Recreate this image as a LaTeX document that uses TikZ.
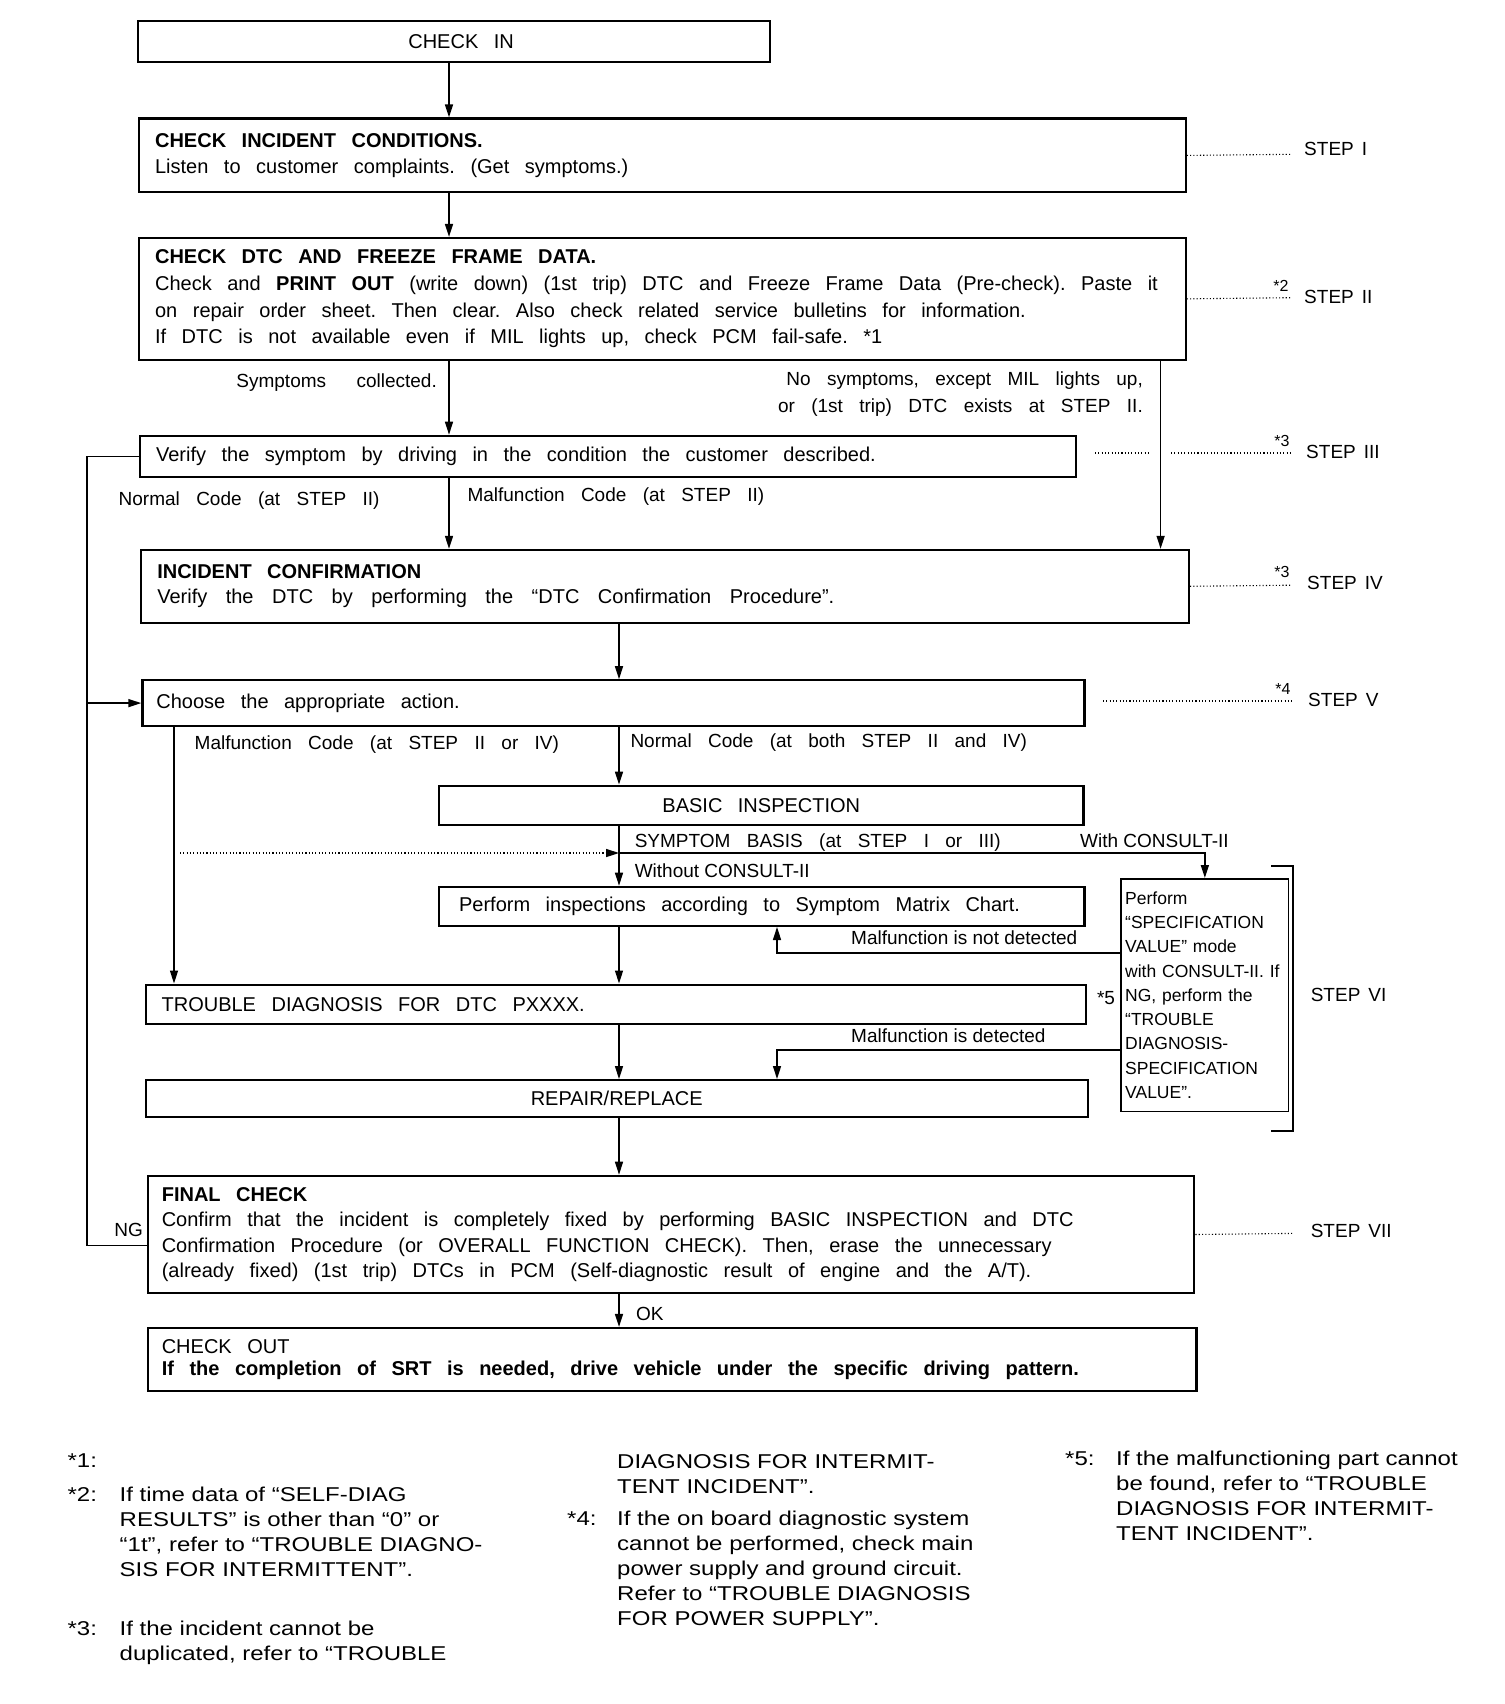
\documentclass[tikz,border=0pt]{standalone}
\usepackage{fontspec}
\setmainfont{Liberation Sans}[WordSpace=3.1]
\newfontfamily\lblfont{Liberation Sans}
\newfontfamily\fnfont{Liberation Sans}[FakeStretch=1.2]
\usetikzlibrary{arrows.meta}
\newcommand\mfs{\fontsize{19}{26}\selectfont}
\newcommand\bfs{\fontsize{20}{26}\selectfont}
\newcommand\ws{\spaceskip=15.5pt plus 1pt minus 1pt\xspaceskip=\spaceskip\frenchspacing}
\newcommand\stepws{\lblfont\fontsize{19}{22}\selectfont\spaceskip 8pt\relax}
\begin{document}
\begin{tikzpicture}[x={(1pt,0pt)},y={(0pt,-1pt)},
  box/.style={draw, line width=2.2pt, inner ysep=0pt, inner xsep=16pt, anchor=north west, align=left, font=\bfs},
  conn/.style={line width=1.5pt},
  arr/.style={conn, -{Triangle[length=13pt,width=8pt]}},
  dots/.style={line width=1.1pt, dash pattern=on 1.1pt off 2.2pt},
  lbl/.style={inner sep=0pt, font=\mfs},
  steplbl/.style={inner sep=0pt, anchor=west, font=\stepws},
  small/.style={inner sep=0pt, font=\lblfont\fontsize{19}{22}\selectfont},
  star/.style={inner sep=0pt, font=\lblfont\fontsize{16}{18}\selectfont},
  fn/.style={inner sep=0pt, anchor=base west, align=left, font=\fnfont\fontsize{20}{25.2}\selectfont}]
\useasboundingbox (0,0) rectangle (1504,1704);
\fill[white] (0,0) rectangle (1504,1704);

% boxes
\node[box, align=center, minimum width=632pt, minimum height=41.3pt, text width=600pt] (checkin) at (137,19.6) {\ws\hspace*{14pt}\mbox{CHECK IN}};
\node[box, minimum width=1046.5pt, minimum height=73.9pt, text width=1014.5pt, font=\fontsize{20}{26}\selectfont] (incident) at (138,117.4)
  {\ws\textbf{CHECK INCIDENT CONDITIONS.}\\Listen to customer complaints. (Get symptoms.)};
\node[box, minimum width=1046.5pt, minimum height=121.7pt, text width=1014.5pt, font=\fontsize{20}{26.8}\selectfont] (dtc) at (138,236.9)
  {\ws\textbf{CHECK DTC AND FREEZE FRAME DATA.}\\\mbox{Check and \textbf{PRINT OUT} (write down) (1st trip) DTC and Freeze Frame Data (Pre-check). Paste it}\\on repair order sheet. Then clear. Also check related service bulletins for information.\\If DTC is not available even if MIL lights up, check PCM fail-safe. *1};
\node[box, minimum width=935.7pt, minimum height=41.3pt, text width=903.7pt] (verify) at (139,434.7)
  {\ws Verify the symptom by driving in the condition the customer described.};
\node[box, minimum width=1047.6pt, minimum height=72.8pt, text width=1015.6pt, font=\fontsize{20}{25}\selectfont] (conf) at (140.2,548.8)
  {\ws\textbf{INCIDENT CONFIRMATION}\\Verify\hspace{3pt} the\hspace{3pt} DTC\hspace{3pt} by\hspace{3pt} performing\hspace{3pt} the\hspace{3pt} “DTC\hspace{3pt} Confirmation\hspace{3pt} Procedure”.};
\node[box, inner xsep=14pt, minimum width=942.1pt, minimum height=45.6pt, text width=914.1pt] (choose) at (141.3,679.2)
  {\ws Choose the appropriate action.};
\node[box, align=center, minimum width=644.4pt, minimum height=39.1pt, text width=612.4pt] (basic) at (438,784.6) {\ws\mbox{BASIC INSPECTION}};
\node[box, inner xsep=20pt, minimum width=645.4pt, minimum height=39.1pt, text width=605.4pt] (perf) at (438,885.7)
  {\ws Perform inspections according to Symptom Matrix Chart.};
\node[box, minimum width=940pt, minimum height=39.1pt, text width=908pt] (trouble) at (144.5,983.5)
  {\ws TROUBLE DIAGNOSIS FOR DTC PXXXX.};
\node[box, line width=1.6pt, inner xsep=4pt, minimum width=167.3pt, minimum height=232.6pt, text width=159.3pt, font=\lblfont\fontsize{17.5}{24.3}\selectfont] (spec) at (1120.4,878)
  {Perform\\“SPECIFICATION\\VALUE” mode\\with CONSULT-II. If\\NG, perform the\\“TROUBLE\\DIAGNOSIS-\\SPECIFICATION\\VALUE”.};
\node[box, align=center, minimum width=942.2pt, minimum height=37pt, text width=910.2pt] (repair) at (144.5,1079) {\ws\mbox{REPAIR/REPLACE}};
\node[box, inner xsep=14pt, minimum width=1046.5pt, minimum height=117.4pt, text width=1018.5pt, font=\fontsize{20}{25.4}\selectfont] (final) at (146.7,1174.7)
  {\ws\textbf{FINAL CHECK}\\Confirm that the incident is completely fixed by performing BASIC INSPECTION and DTC\\Confirmation Procedure (or OVERALL FUNCTION CHECK). Then, erase the unnecessary\\(already fixed) (1st trip) DTCs in PCM (Self-diagnostic result of engine and the A/T).};
\node[box, inner xsep=14pt, minimum width=1048.7pt, minimum height=63pt, text width=1020.7pt, font=\fontsize{20}{22}\selectfont] (checkout) at (146.7,1326.9)
  {\ws CHECK OUT\\\textbf{If the completion of SRT is needed, drive vehicle under the specific driving pattern.}};

% helper coordinates
\coordinate (c1) at (449,0);
\coordinate (c2) at (1160.6,0);
\coordinate (c3) at (619,0);
\coordinate (c4) at (174,0);
\coordinate (lx) at (87,0);
\coordinate (sb) at (619,853);
\coordinate (sbs) at (180,853);
\coordinate (nd) at (777,953);
\coordinate (dd) at (777,1049.8);

% connectors
\draw[arr] (checkin.south -| c1) -- (incident.north -| c1);
\draw[arr] (incident.south -| c1) -- (dtc.north -| c1);
\draw[arr] (dtc.south -| c1) -- (verify.north -| c1);
\draw[arr] (verify.south -| c1) -- (conf.north -| c1);
\draw[arr] (dtc.south -| c2) -- (conf.north -| c2);
\draw[arr] (conf.south -| c3) -- (choose.north -| c3);
\draw[arr] (choose.south -| c3) -- (basic.north -| c3);
\draw[arr] (basic.south -| c3) -- (perf.north -| c3);
\draw[arr] (perf.south -| c3) -- (trouble.north -| c3);
\draw[arr] (trouble.south -| c3) -- (repair.north -| c3);
\draw[arr] (repair.south -| c3) -- (final.north -| c3);
\draw[arr] (final.south -| c3) -- (checkout.north -| c3);
\draw[arr] (choose.south -| c4) -- (trouble.north -| c4);
\draw[arr] (verify.west) -| (lx |- choose.west) -- (choose.west);
\draw[conn] ([yshift=-11pt]final.west) -| (lx |- choose.west);
\draw[dots, line width=1.5pt, -{Triangle[length=13pt,width=8pt]}] (sbs) -- (sb);
\draw[arr] (sb) -| (spec.north);
\draw[arr] (spec.west |- nd) -| (perf.south -| nd);
\draw[arr] (spec.west |- dd) -| (repair.north -| dd);

% labels on connectors
\node[lbl, anchor=east] (lsym) at (437,382.5) {Symptoms\hspace{14pt} collected.};
\node[lbl, anchor=east, align=right, font=\fontsize{19}{27.2}\selectfont] (lnosym) at (1143,394) {No symptoms, except MIL lights up,\\or (1st trip) DTC exists at STEP II.};
\node[lbl, anchor=west] (lnorm2) at (118.5,501) {Normal Code (at STEP II)};
\node[lbl, anchor=west] (lmal2) at (467.3,496.6) {Malfunction Code (at STEP II)};
\node[lbl, anchor=west] (lmal24) at (194.5,744.4) {Malfunction Code (at STEP II or IV)};
\node[lbl, anchor=west] (lnorm24) at (630.3,742.2) {Normal Code (at both STEP II and IV)};
\node[lbl, anchor=west] (lsb) at (634.6,842.2) {SYMPTOM BASIS (at STEP I or III)};
\node[small, anchor=west] (lwith) at (1080,841) {With CONSULT-II};
\node[small, anchor=west] (lwithout) at (634.6,870.5) {Without CONSULT-II};
\node[small, anchor=west] (lnotdet) at (851,937.8) {Malfunction is not detected};
\node[small, anchor=west] (ldet) at (851,1035.6) {Malfunction is detected};
\node[lbl] (l5) at (1106,997.6) {*5};
\node[lbl, anchor=east] (lng) at (143,1230) {NG};
\node[lbl, anchor=west] (lok) at (636,1314) {OK};

% step marks
\draw[dots] (incident.east) -- (1291,154.3);
\draw[dots] (dtc.east) -- (1290,297.7);
\draw[dots] (1095,453) -- (1150,453);
\draw[dots] (1171,453) -- (1290,453);
\draw[dots] (conf.east) -- (1290,585.2);
\draw[dots] (1103,701) -- (1293,701);
\draw[dots] (final.east) -- (1293,1233.4);
\draw[conn] (1271,866) -- (1293,866) -- (1293,1131) -- (1271,1131);
\node[star] (s2) at (1281,286) {*2};
\node[star] (s3a) at (1282,441) {*3};
\node[star] (s3b) at (1282,572) {*3};
\node[star] (s4) at (1283,689) {*4};
\node[steplbl] (st1) at (1304,148.9) {STEP I};
\node[steplbl] (st2) at (1304,296.7) {STEP II};
\node[steplbl] (st3) at (1306,452) {STEP III};
\node[steplbl] (st4) at (1307,582.5) {STEP IV};
\node[steplbl] (st5) at (1308,700) {STEP V};
\node[steplbl] (st6) at (1310.6,995.4) {STEP VI};
\node[steplbl] (st7) at (1310.6,1231) {STEP VII};

% footnotes (base = last line baseline)
\node[fn] (f1m) at (67.4,1467.5) {*1:};
\node[fn] (f2m) at (67.4,1501) {*2:};
\node[fn] (f2t) at (119.5,1576.6) {If time data of “SELF-DIAG\\RESULTS” is other than “0” or\\“1t”, refer to “TROUBLE DIAGNO-\\SIS FOR INTERMITTENT”.};
\node[fn] (f3m) at (67.4,1635) {*3:};
\node[fn] (f3t) at (119.5,1660.2) {If the incident cannot be\\duplicated, refer to “TROUBLE};
\node[fn] (f3c) at (617,1493.8) {DIAGNOSIS FOR INTERMIT-\\TENT INCIDENT”.};
\node[fn] (f4m) at (567,1525) {*4:};
\node[fn] (f4t) at (617,1625.8) {If the on board diagnostic system\\cannot be performed, check main\\power supply and ground circuit.\\Refer to “TROUBLE DIAGNOSIS\\FOR POWER SUPPLY”.};
\node[fn] (f5m) at (1065,1465) {*5:};
\node[fn] (f5t) at (1116,1540.6) {If the malfunctioning part cannot\\be found, refer to “TROUBLE\\DIAGNOSIS FOR INTERMIT-\\TENT INCIDENT”.};
\end{tikzpicture}
\end{document}
